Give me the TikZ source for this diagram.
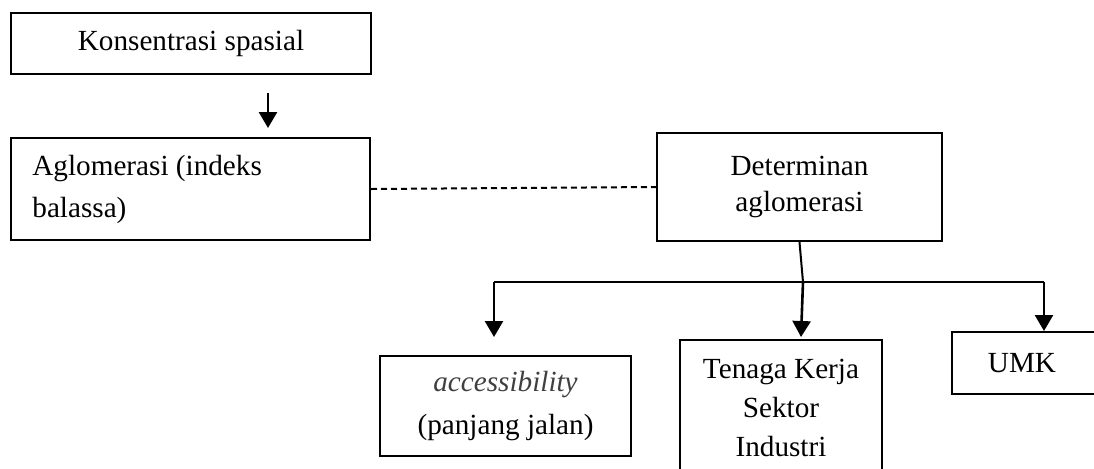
\documentclass[tikz,border=0pt]{standalone}
\usepackage{fontspec}
\setmainfont{Liberation Serif}
\usetikzlibrary{arrows.meta}
\begin{document}
\begin{tikzpicture}[x=0.5pt,y=-0.5pt,
  box/.style={draw, line width=1pt, inner sep=0pt, align=center,
    font=\fontsize{14.6}{19.5}\selectfont},
  txt/.style={inner sep=0pt, align=left, font=\fontsize{14.6}{21}\selectfont},
  arr/.style={line width=1.3pt, -{Triangle[length=8pt,width=9pt]}},
  link/.style={line width=1pt}]
\useasboundingbox (0,0) rectangle (1094,468);
\clip (0,0) rectangle (1094,468);
\node[box, minimum width=180pt, minimum height=30.5pt] (k) at (191,43.5) {Konsentrasi spasial};
\node[box, minimum width=179.5pt, minimum height=51pt] (a) at (190.5,189) {};
\node[txt, anchor=west] (at) at (32,189) {Aglomerasi (indeks\\balassa)};
\node[box, minimum width=142.5pt, minimum height=54pt, font=\fontsize{14.6}{18}\selectfont] (d) at (799.5,187) {Determinan\\aglomerasi};
\node[box, minimum width=125.5pt, minimum height=50pt, font=\fontsize{14.6}{21.5}\selectfont] (acc) at (505.5,406) {{\color{black!75}\itshape accessibility}\\(panjang jalan)};
\node[box, minimum width=101pt, minimum height=68pt] (t) at (781,408) {Tenaga Kerja\\Sektor\\Industri};
\node[box, minimum width=74pt, minimum height=31pt] (u) at (1026,363) {\hspace*{-4pt}UMK};
\coordinate (ka) at (268,93);
\coordinate (kb) at (268,128);
\draw[arr] (ka) -- (kb);
\draw[link, dash pattern=on 3pt off 2pt] (a.east) -- (d.west);
\coordinate (j) at (803,282);
\coordinate (hl) at (494,282);
\coordinate (hr) at (1044,282);
\coordinate (e1) at (494,337);
\coordinate (e2) at (801,337);
\coordinate (e3) at (1044,331);
\draw[link] (d.south) -- (j);
\draw[link] (hl) -- (hr);
\draw[arr] (hl) -- (e1);
\draw[arr] (j) -- (e2);
\draw[arr] (hr) -- (e3);
\end{tikzpicture}
\end{document}
